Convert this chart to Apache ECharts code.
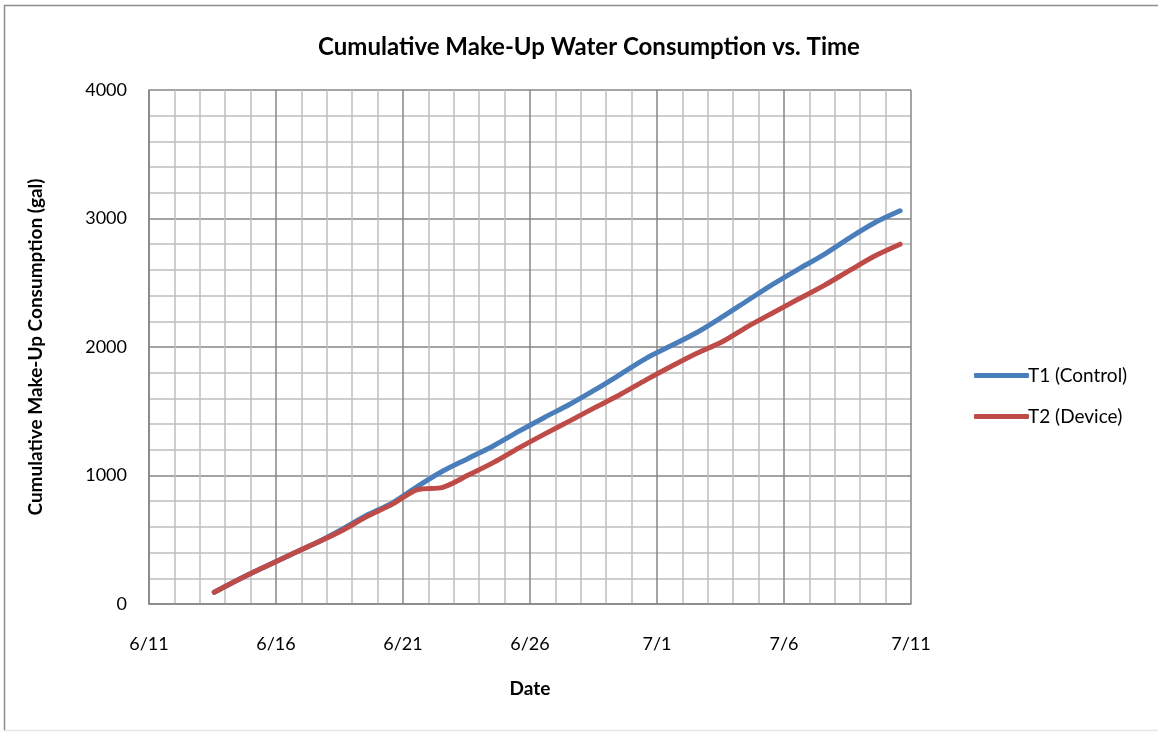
<!DOCTYPE html>
<html>
<head>
<meta charset="utf-8">
<script src="https://cdn.jsdelivr.net/npm/echarts@6/dist/echarts.min.js"></script>
<style>
html,body{margin:0;padding:0;background:#fff;overflow:hidden;}
#chart{width:1158px;height:732px;}
</style>
</head>
<body>
<div id="chart"></div>
<script>
// Sample times (one reading per day)
const dates = [
  '2013-06-13T13:40','2013-06-14T13:40','2013-06-15T13:40','2013-06-16T13:40',
  '2013-06-17T13:40','2013-06-18T13:40','2013-06-19T13:40','2013-06-20T13:40',
  '2013-06-21T13:40','2013-06-22T13:40','2013-06-23T13:40','2013-06-24T13:40',
  '2013-06-25T13:40','2013-06-26T13:40','2013-06-27T13:40','2013-06-28T13:40',
  '2013-06-29T13:40','2013-06-30T13:40','2013-07-01T13:40','2013-07-02T13:40',
  '2013-07-03T13:40','2013-07-04T13:40','2013-07-05T13:40','2013-07-06T13:40',
  '2013-07-07T13:40','2013-07-08T13:40','2013-07-09T13:40','2013-07-10T13:40'
];
// Cumulative make-up consumption (gal)
const t1Control = [91,194,290,384,474,578,690,785,915,1035,1133,1232,1345,1452,1555,1668,1789,1912,2011,2113,2234,2362,2489,2606,2719,2848,2967,3060];
const t2Device  = [91,194,290,384,474,568,680,775,890,908,1003,1102,1215,1322,1425,1530,1632,1744,1850,1951,2041,2159,2267,2373,2478,2594,2708,2800];
const seriesNames = ['T1 (Control)','T2 (Device)'];
const axisStart = '2013-06-11T00:00';

const DAY = 86400000;
const base = new Date(axisStart).getTime();
const toX = d => (new Date(d).getTime() - base) / DAY;
const pairs = vals => dates.map((d,i) => [toX(d), vals[i]]);

const FONT = 'Lato';
const chart = echarts.init(document.getElementById('chart'), null, {renderer:'canvas'});
chart.setOption({
  animation:false,
  backgroundColor:'#fff',
  textStyle:{fontFamily:FONT},
  title:{
    text:'Cumulative Make-Up Water Consumption vs. Time',
    left:584, top:30, textAlign:'center',
    textStyle:{fontFamily:FONT, fontWeight:'bold', fontSize:24, color:'#000'}
  },
  graphic:[
    {type:'polyline', silent:true, z:-10,
     shape:{points:[[1158,5.5],[4.5,5.5],[4.5,730.5]]},
     style:{fill:null, stroke:'#8c8c8c', lineWidth:1.5}},
    {type:'line', silent:true, z:-10,
     shape:{x1:4.5, y1:730.5, x2:1158, y2:730.5},
     style:{stroke:'#e6e6e6', lineWidth:1.5}}
  ],
  legend:{
    orient:'vertical', left:969, top:361,
    itemWidth:55, itemHeight:5, itemGap:22, icon:'roundRect',
    textStyle:{fontFamily:FONT, fontSize:19, color:'#000', padding:[0,0,0,-6]},
    data:seriesNames
  },
  grid:{left:149, right:247, top:90, bottom:128, containLabel:false},
  xAxis:{
    type:'value', min:0, max:30, interval:5,
    name:'Date', nameLocation:'middle', nameGap:75,
    nameTextStyle:{fontFamily:FONT, fontWeight:'bold', fontSize:19, color:'#000'},
    axisLine:{show:true, lineStyle:{color:'#868686', width:1.5}},
    axisTick:{show:false},
    axisLabel:{margin:31, fontFamily:FONT, fontSize:18, color:'#000',
      formatter: v => { const d = new Date(base + v*DAY); return (d.getMonth()+1)+'/'+d.getDate(); }},
    splitLine:{show:true, lineStyle:{color:'#868686', width:1.5}},
    minorTick:{show:false, splitNumber:5},
    minorSplitLine:{show:true, lineStyle:{color:'#BFBFBF', width:1.5}}
  },
  yAxis:{
    type:'value', min:0, max:4000, interval:1000,
    name:'Cumulative Make-Up Consumption (gal)', nameLocation:'middle', nameGap:104,
    nameTextStyle:{fontFamily:FONT, fontWeight:'bold', fontSize:19, color:'#000'},
    axisLine:{show:true, lineStyle:{color:'#868686', width:1.5}},
    axisTick:{show:false},
    axisLabel:{margin:22, fontFamily:FONT, fontSize:18, color:'#000', formatter: v => String(v)},
    splitLine:{show:true, lineStyle:{color:'#868686', width:1.5}},
    minorTick:{show:false, splitNumber:5},
    minorSplitLine:{show:true, lineStyle:{color:'#BFBFBF', width:1.5}}
  },
  series:[
    {name:seriesNames[0], type:'line', data:pairs(t1Control), smooth:0.3, showSymbol:false, symbol:'none',
     lineStyle:{color:'#4A7EBB', width:5, cap:'round'}, itemStyle:{color:'#4A7EBB'}},
    {name:seriesNames[1], type:'line', data:pairs(t2Device), smooth:0.3, showSymbol:false, symbol:'none',
     lineStyle:{color:'#BE4B48', width:5, cap:'round'}, itemStyle:{color:'#BE4B48'}}
  ]
});
</script>
</body>
</html>
